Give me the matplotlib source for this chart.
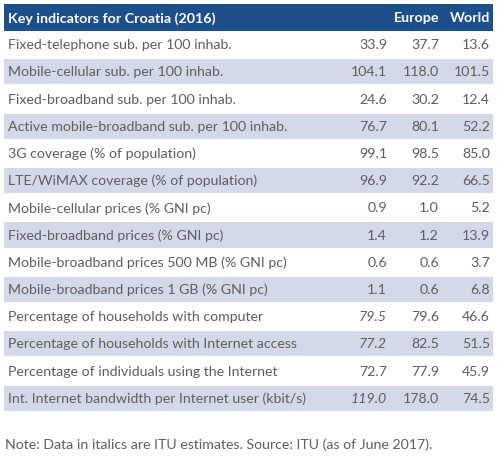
import matplotlib.pyplot as plt
from matplotlib.patches import Rectangle

# Table content
title = "Key indicators for Croatia (2016)"
col_heads = ["Europe", "World"]
indicators = [
    "Fixed-telephone sub. per 100 inhab.",
    "Mobile-cellular sub. per 100 inhab.",
    "Fixed-broadband sub. per 100 inhab.",
    "Active mobile-broadband sub. per 100 inhab.",
    "3G coverage (% of population)",
    "LTE/WiMAX coverage (% of population)",
    "Mobile-cellular prices (% GNI pc)",
    "Fixed-broadband prices (% GNI pc)",
    "Mobile-broadband prices 500 MB (% GNI pc)",
    "Mobile-broadband prices 1 GB (% GNI pc)",
    "Percentage of households with computer",
    "Percentage of households with Internet access",
    "Percentage of individuals using the Internet",
    "Int. Internet bandwidth per Internet user (kbit/s)",
]
croatia = ["33.9", "104.1", "24.6", "76.7", "99.1", "96.9", "0.9", "1.4",
           "0.6", "1.1", "79.5", "77.2", "72.7", "119.0"]
europe = ["37.7", "118.0", "30.2", "80.1", "98.5", "92.2", "1.0", "1.2",
          "0.6", "0.6", "79.6", "82.5", "77.9", "178.0"]
world = ["13.6", "101.5", "12.4", "52.2", "85.0", "66.5", "5.2", "13.9",
         "3.7", "6.8", "46.6", "51.5", "45.9", "74.5"]
croatia_italic = [False] * 10 + [True, True, False, True]
note = "Note: Data in italics are ITU estimates. Source: ITU (as of June 2017)."

plt.rcParams["font.family"] = ["Lato", "DejaVu Sans"]

W, H = 500, 463
fig = plt.figure(figsize=(W / 100, H / 100), dpi=100)
ax = fig.add_axes([0, 0, 1, 1])
ax.set_xlim(0, W)
ax.set_ylim(H, 0)
ax.axis("off")

header_color = "#1d4f8b"
band_color = "#d3d9e8"
text_color = "#5e5e5e"
left, right = 4, 493
top, head_h = 4, 27
row_h = 27.2
x_label = 8
x_cols = [387, 439, 490]
fs = 10.2

ax.add_patch(Rectangle((left, top), right - left, head_h, color=header_color, lw=0))
ax.text(x_label, top + head_h / 2 + 1, title, color="white", fontsize=10.3,
        fontweight="bold", va="center", ha="left")
for x, h in zip(x_cols[1:], col_heads):
    ax.text(x, top + head_h / 2 + 1, h, color="white", fontsize=10.3,
            fontweight="bold", va="center", ha="right")

y0 = top + head_h
for i, name in enumerate(indicators):
    y = y0 + i * row_h
    if i % 2 == 1:
        ax.add_patch(Rectangle((left, y + 1), right - left, row_h - 2,
                               color=band_color, lw=0))
    yc = y + row_h / 2 + 0.5
    ax.text(x_label, yc, name, color=text_color, fontsize=fs, va="center", ha="left")
    ax.text(x_cols[0], yc, croatia[i], color=text_color, fontsize=fs,
            va="center", ha="right", style="italic" if croatia_italic[i] else "normal")
    ax.text(x_cols[1], yc, europe[i], color=text_color, fontsize=fs,
            va="center", ha="right")
    ax.text(x_cols[2], yc, world[i], color=text_color, fontsize=fs,
            va="center", ha="right")

ax.text(5, 445, note, color=text_color, fontsize=fs, va="center", ha="left")

fig.savefig("out.png", dpi=100, facecolor="white")
